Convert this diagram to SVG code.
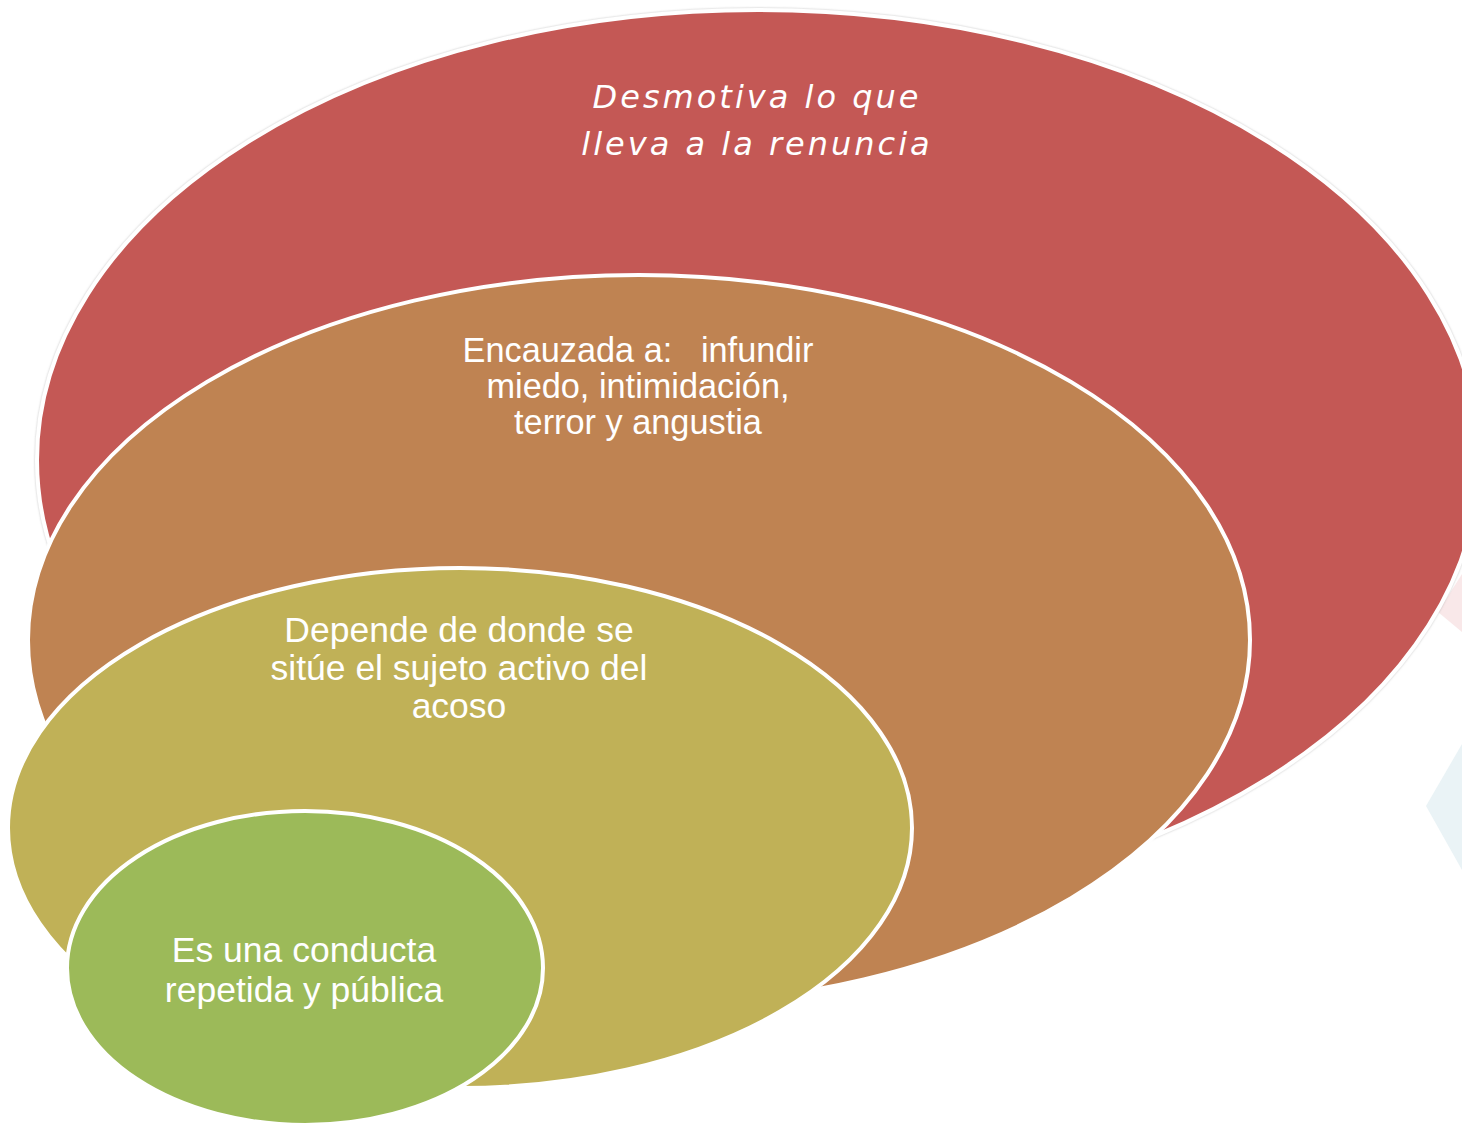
<svg xmlns="http://www.w3.org/2000/svg" width="1462" height="1127" viewBox="0 0 1462 1127">
  <style>
    .ring { stroke: #ffffff; stroke-width: 4; }
    .label { font-family: "Liberation Sans", Arial, sans-serif; font-size: 35.5px; fill: #ffffff; text-anchor: middle; white-space: pre; }
    .small { font-size: 34.3px; }
    .hand { font-family: "DejaVu Sans", "Liberation Sans", sans-serif; font-style: italic; font-size: 32px; fill: #ffffff; text-anchor: middle; letter-spacing: 3px; }
  </style>
  <defs>
    <filter id="edge" x="-5%" y="-5%" width="110%" height="110%">
      <feDropShadow dx="0" dy="0" stdDeviation="1" flood-color="#9a9a9a" flood-opacity="0.6"/>
    </filter>
  </defs>
  <rect width="1462" height="1127" fill="#ffffff"/>

  <!-- faint background shapes at the right margin -->
  <polygon points="1462,574 1438,612 1462,632" fill="#f9e8e9"/>
  <polygon points="1462,744 1426,806 1462,870" fill="#eaf3f6"/>

  <g id="outer">
    <ellipse cx="758" cy="460" rx="721" ry="450" fill="#c45855" class="ring" filter="url(#edge)"/>
    <text class="hand" x="757" y="108">Desmotiva lo que</text>
    <text class="hand" x="757" y="155">lleva a la renuncia</text>
  </g>

  <g id="second">
    <ellipse cx="639" cy="640" rx="611" ry="365" fill="#bf8352" class="ring"/>
    <text class="label small" x="638" y="362" xml:space="preserve">Encauzada a:   infundir</text>
    <text class="label small" x="638" y="398">miedo, intimidación,</text>
    <text class="label small" x="638" y="434">terror y angustia</text>
  </g>

  <g id="third">
    <ellipse cx="460" cy="828" rx="452" ry="260" fill="#c0b157" class="ring"/>
    <text class="label" x="459" y="642">Depende de donde se</text>
    <text class="label" x="459" y="680">sitúe el sujeto activo del</text>
    <text class="label" x="459" y="718">acoso</text>
  </g>

  <g id="inner">
    <ellipse cx="305" cy="968" rx="238" ry="157" fill="#9cba59" class="ring"/>
    <text class="label" x="304" y="962">Es una conducta</text>
    <text class="label" x="304" y="1002">repetida y pública</text>
  </g>

  <g id="connectors"/>
</svg>
